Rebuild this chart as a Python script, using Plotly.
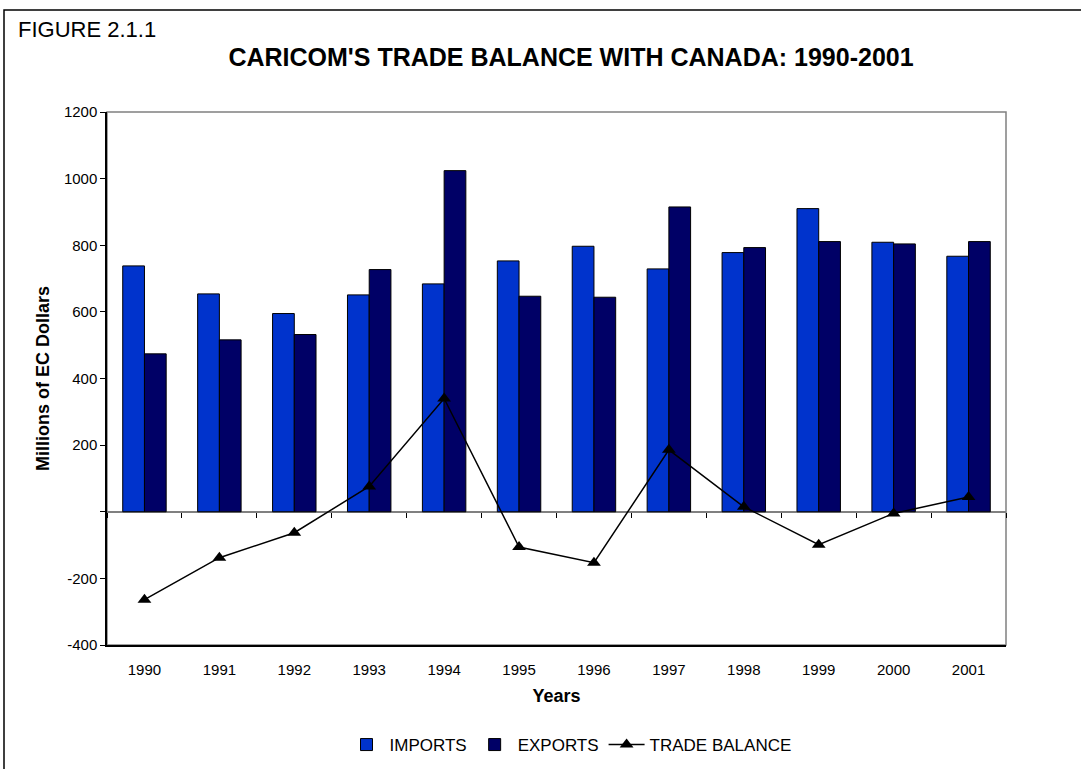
import plotly.graph_objects as go

years = ["1990", "1991", "1992", "1993", "1994", "1995", "1996", "1997", "1998", "1999", "2000", "2001"]
imports = [738, 654, 595, 651, 684, 753, 797, 729, 778, 910, 809, 767]
exports = [474, 516, 532, 727, 1024, 647, 644, 915, 793, 811, 804, 811]
trade_balance = [-264, -138, -63, 76, 340, -106, -153, 186, 15, -99, -5, 44]
y_ticks = [-400, -200, 0, 200, 400, 600, 800, 1000, 1200]
y_tick_text = ["-400", "-200", "", "200", "400", "600", "800", "1000", "1200"]

FONT = "Liberation Sans, Arial, sans-serif"
W, H = 1081, 769
L, R, T, B = 107, 1006, 112, 645  # plot area in pixels

def px_x(p):
    return (p - L) / (R - L)

def px_y(p):
    return (B - p) / (B - T)

fig = go.Figure()
fig.add_trace(go.Bar(
    x=years, y=imports, name="IMPORTS",
    marker=dict(color="#0033CC", line=dict(color="black", width=1)),
))
fig.add_trace(go.Bar(
    x=years, y=exports, name="EXPORTS",
    marker=dict(color="#000066", line=dict(color="black", width=1)),
))
idx = list(range(len(years)))
fig.add_trace(go.Scatter(
    x=idx, y=trade_balance, name="TRADE BALANCE", xaxis="x2",
    mode="lines+markers",
    line=dict(color="black", width=1.5),
    marker=dict(symbol="triangle-up", size=12, color="black"),
))

zero_pos = (0 - y_ticks[0]) / (y_ticks[-1] - y_ticks[0])
boundaries = [i - 0.5 for i in range(len(years) + 1)]

fig.update_layout(
    template="none",
    width=W, height=H,
    margin=dict(l=L, r=W - R, t=T, b=H - B, pad=0, autoexpand=False),
    paper_bgcolor="white", plot_bgcolor="white",
    font=dict(family=FONT, color="black", size=15),
    barmode="group", bargap=0.42, bargroupgap=0,
    showlegend=True,
    legend=dict(orientation="h", x=px_x(570), xanchor="center", y=px_y(745), yanchor="middle",
                font=dict(size=17, family=FONT), traceorder="normal",
                itemwidth=36, tracegroupgap=0, bgcolor="rgba(0,0,0,0)", borderwidth=0),
    title=dict(text="<b>CARICOM'S TRADE BALANCE WITH CANADA: 1990-2001</b>",
               x=571 / W, xanchor="center", y=1 - 57 / H, yanchor="middle",
               font=dict(size=25, family=FONT, color="black")),
    xaxis=dict(type="category", showgrid=False, zeroline=False, automargin=False,
               showline=True, linecolor="black", linewidth=1.5,
               ticks="outside", ticklen=10, tickcolor="rgba(0,0,0,0)",
               tickfont=dict(size=15),
               title=dict(text="<b>Years</b>", font=dict(size=18), standoff=13)),
    xaxis2=dict(overlaying="x", anchor="free", position=zero_pos, automargin=False,
                range=[boundaries[0], boundaries[-1]], showgrid=False, zeroline=False,
                showline=True, linecolor="#808080", linewidth=1.5,
                tickmode="array", tickvals=boundaries, showticklabels=False,
                ticks="outside", ticklen=5, tickcolor="black", layer="below traces"),
    yaxis=dict(range=[y_ticks[0], y_ticks[-1]], tickmode="array", tickvals=y_ticks,
               ticktext=y_tick_text, showgrid=False, zeroline=False, automargin=False,
               showline=True, linecolor="black", linewidth=1.5,
               ticks="outside", ticklen=5, tickcolor="black", tickfont=dict(size=15),
               title=dict(text="<b>Millions of EC Dollars</b>", font=dict(size=18), standoff=10)),
    shapes=[
        dict(type="rect", xref="paper", yref="paper", x0=0, x1=1, y0=0, y1=1,
             line=dict(color="#808080", width=1.5), layer="below"),
        dict(type="rect", xref="paper", yref="paper", x0=px_x(4), x1=px_x(1090),
             y0=px_y(780), y1=px_y(10), line=dict(color="black", width=1.5), layer="below"),
    ],
    annotations=[
        dict(text="FIGURE 2.1.1", xref="paper", yref="paper", x=px_x(16), y=px_y(29),
             xanchor="left", yanchor="middle", showarrow=False,
             font=dict(size=22, family=FONT, color="black")),
    ],
)

fig.write_html("out.html",
               config={"displayModeBar": False},
               post_script="document.body.style.margin='0';document.body.style.padding='0';")
